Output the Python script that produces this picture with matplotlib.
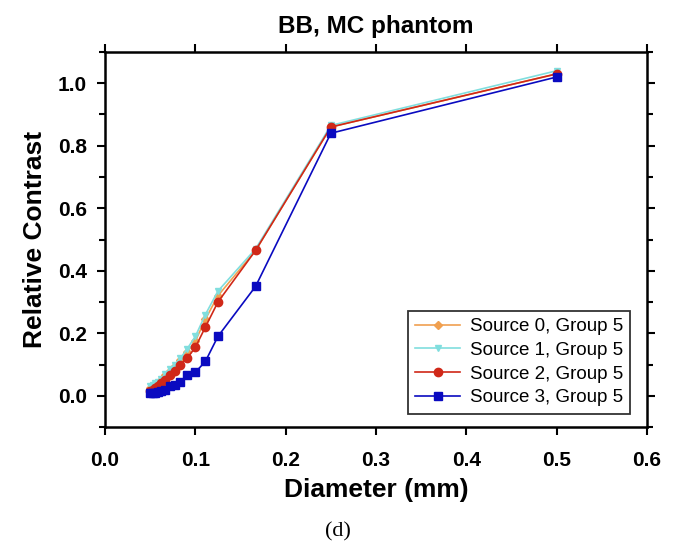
import numpy as np
import matplotlib
matplotlib.use('Agg')
from matplotlib import pyplot as plt
from matplotlib.ticker import MultipleLocator, FormatStrFormatter

plt.rcParams['font.family'] = ['Liberation Sans', 'DejaVu Sans']

# diameters (mm)
diam = [0.5, 0.25, 1/6, 0.125, 1/9, 0.1, 1/11, 1/12, 1/13, 1/14, 1/15, 1/16, 1/17, 1/18, 1/19, 0.05]

src0 = [1.03, 0.86, 0.465, 0.32, 0.245, 0.175, 0.14, 0.115, 0.095, 0.08, 0.065, 0.05, 0.04, 0.035, 0.03, 0.025]
src1 = [1.04, 0.865, 0.47, 0.335, 0.26, 0.19, 0.15, 0.12, 0.10, 0.085, 0.07, 0.055, 0.045, 0.04, 0.035, 0.03]
src2 = [1.03, 0.86, 0.465, 0.30, 0.22, 0.155, 0.12, 0.10, 0.08, 0.065, 0.05, 0.04, 0.03, 0.025, 0.02, 0.015]
src3 = [1.02, 0.84, 0.35, 0.19, 0.11, 0.075, 0.065, 0.045, 0.035, 0.03, 0.02, 0.015, 0.012, 0.01, 0.01, 0.01]

labels = ['Source 0, Group 5', 'Source 1, Group 5', 'Source 2, Group 5', 'Source 3, Group 5']
colors = ['#f0a050', '#80dede', '#d02818', '#0a0ac0']
markers = ['D', 'v', 'o', 's']
msizes = [4, 5, 6, 6]

fig = plt.figure(figsize=(6.75, 5.49), dpi=100)
ax = fig.add_axes([0.1556, 0.2222, 0.803, 0.6831])

for ys, lab, c, m, ms in zip([src0, src1, src2, src3], labels, colors, markers, msizes):
    ax.plot(diam, ys, color=c, marker=m, markersize=ms, linewidth=1.2, label=lab)

ax.set_xlim(0.0, 0.6)
ax.set_ylim(-0.1, 1.1)
ax.xaxis.set_major_locator(MultipleLocator(0.1))
ax.yaxis.set_major_locator(MultipleLocator(0.2))
ax.yaxis.set_minor_locator(MultipleLocator(0.1))
ax.tick_params(which='both', top=True, right=True, direction='out', width=1.5)
ax.tick_params(which='major', length=6)
ax.tick_params(which='minor', length=4)
ax.tick_params(axis='x', which='major', pad=11)
ax.tick_params(axis='y', which='major', pad=7)
for sp in ax.spines.values():
    sp.set_linewidth(1.8)
ax.xaxis.set_major_formatter(FormatStrFormatter('%.1f'))
ax.yaxis.set_major_formatter(FormatStrFormatter('%.1f'))
for lab in ax.get_xticklabels() + ax.get_yticklabels():
    lab.set_fontweight('bold')
    lab.set_fontsize(15)

ax.set_xlabel('Diameter (mm)', fontsize=19, fontweight='bold', labelpad=6)
ax.set_ylabel('Relative Contrast', fontsize=19, fontweight='bold', labelpad=8)
ax.set_title('BB, MC phantom', fontsize=17.5, fontweight='bold', pad=14)

leg = ax.legend(loc='lower right', fontsize=13.5, frameon=True, fancybox=False,
                edgecolor='black', borderpad=0.4, handlelength=2.4, handletextpad=0.5,
                labelspacing=0.35, borderaxespad=0, bbox_to_anchor=(0.969, 0.035))
leg.get_frame().set_linewidth(1.3)

fig.text(0.5, 1 - 532 / 549, '(d)', ha='center', va='center', fontsize=16, family='Liberation Serif')

fig.savefig('out.png', dpi=100)
